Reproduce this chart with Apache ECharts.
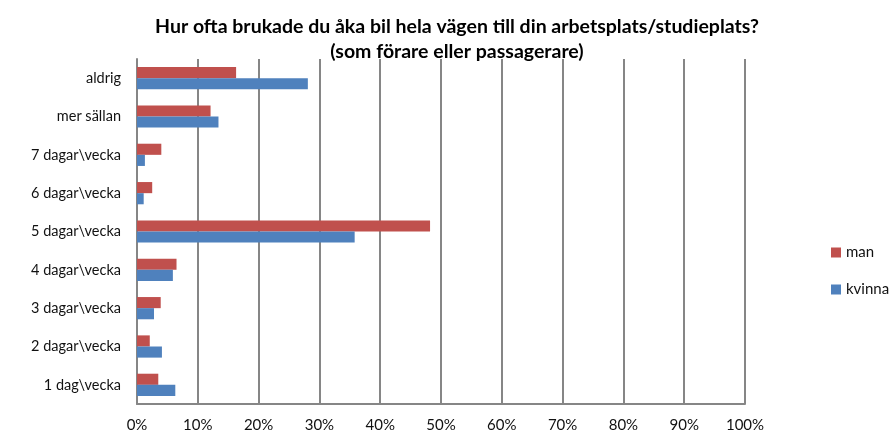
<!DOCTYPE html>
<html>
<head>
    <meta charset="utf-8">
    <title>Hur ofta brukade du åka bil</title>
    <script src="https://cdn.jsdelivr.net/npm/echarts@6/dist/echarts.min.js"></script>
    <style>
        html, body { margin: 0; padding: 0; background: #fff; }
        #main { width: 895px; height: 437px; }
    </style>
</head>
<body>
<div id="main"></div>
<script type="text/javascript">
    // kategorier nerifrån och upp (ECharts ritar första kategorin längst ner)
    var categories = ['1 dag\\vecka', '2 dagar\\vecka', '3 dagar\\vecka', '4 dagar\\vecka',
        '5 dagar\\vecka', '6 dagar\\vecka', '7 dagar\\vecka', 'mer sällan', 'aldrig'];
    var manValues = [3.5, 2.1, 3.9, 6.5, 48.2, 2.5, 4.0, 12.1, 16.3];
    var kvinnaValues = [6.3, 4.1, 2.8, 5.9, 35.8, 1.1, 1.3, 13.4, 28.1];
    var xTicks = [0, 10, 20, 30, 40, 50, 60, 70, 80, 90, 100];

    var myChart = echarts.init(document.getElementById('main'));
    var font = 'Lato, "Open Sans", sans-serif';

    var option = {
        backgroundColor: '#fff',
        animation: false,
        title: {
            text: 'Hur ofta brukade du åka bil hela vägen till din arbetsplats/studieplats?\n(som förare eller passagerare)',
            left: 452,
            top: 9,
            textAlign: 'center',
            textStyle: {
                fontFamily: font,
                fontSize: 19.5,
                fontWeight: 'bold',
                color: '#000',
                lineHeight: 25
            }
        },
        legend: {
            orient: 'vertical',
            left: 826,
            top: 240,
            itemGap: 22,
            itemWidth: 10,
            itemHeight: 10,
            icon: 'rect',
            data: ['man', 'kvinna'],
            textStyle: { fontFamily: font, fontSize: 15, color: '#111' }
        },
        grid: { left: 137, right: 150, top: 59, bottom: 33 },
        xAxis: {
            type: 'value',
            min: xTicks[0],
            max: xTicks[xTicks.length - 1],
            interval: 10,
            axisLine: { show: true, lineStyle: { color: '#868686', width: 2 } },
            axisTick: { show: false },
            splitLine: { lineStyle: { color: '#868686', width: 2 } },
            axisLabel: {
                formatter: '{value}%',
                fontFamily: font,
                fontSize: 15,
                color: '#111',
                margin: 14
            }
        },
        yAxis: {
            type: 'category',
            data: categories,
            axisLine: { show: true, lineStyle: { color: '#868686', width: 2 } },
            axisTick: { show: false },
            axisLabel: { fontFamily: font, fontSize: 14.5, color: '#111', margin: 16 }
        },
        series: [
            {
                name: 'man',
                type: 'bar',
                data: manValues,
                barGap: '0%',
                barCategoryGap: '42%',
                itemStyle: { color: '#C0504D' }
            },
            {
                name: 'kvinna',
                type: 'bar',
                data: kvinnaValues,
                barGap: '0%',
                barCategoryGap: '42%',
                itemStyle: { color: '#4F81BD' }
            }
        ]
    };

    myChart.setOption(option);
</script>
</body>
</html>
